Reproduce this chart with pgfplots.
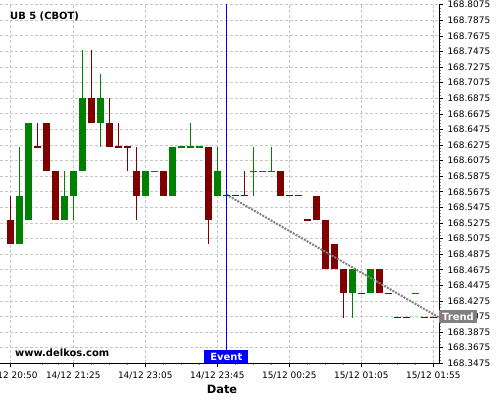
\documentclass[border=0pt]{standalone}
\usepackage{pgfplots}
\pgfplotsset{compat=1.18}
\usepackage{pgfplotstable}
\usepackage{fontspec}
\setmainfont{DejaVu Sans}
\definecolor{cred}{HTML}{800000}
\definecolor{cgreen}{HTML}{008000}
\definecolor{cgrid}{HTML}{C8C8C8}
\definecolor{ctrend}{HTML}{808080}

% wicks: x, low, high
\pgfplotstableread{
x lo hi
0 168.5 168.5625
3 168.625 168.65625
9 168.65625 168.75
11 168.625 168.6875
12 168.625 168.65625
13 168.59375 168.625
14 168.53125 168.625
22 168.5 168.625
26 168.5625 168.59375
37 168.40625 168.46875
}\redwick
\pgfplotstableread{
x lo hi
1 168.5 168.625
6 168.53125 168.59375
7 168.53125 168.59375
8 168.59375 168.75
10 168.625 168.71875
20 168.625 168.65625
23 168.5625 168.625
27 168.5625 168.625
29 168.59375 168.625
38 168.40625 168.46875
}\greenwick
% bodies: x, low, high
\pgfplotstableread{
x lo hi
0 168.5 168.53125
4 168.59375 168.65625
5 168.53125 168.59375
9 168.65625 168.6875
11 168.625 168.65625
14 168.5625 168.59375
17 168.5625 168.59375
22 168.53125 168.625
30 168.5625 168.59375
34 168.53125 168.5625
35 168.46875 168.53125
36 168.46875 168.5
37 168.4375 168.46875
41 168.4375 168.46875
}\redbody
\pgfplotstableread{
x lo hi
1 168.5 168.5625
2 168.53125 168.65625
6 168.53125 168.5625
7 168.5625 168.59375
8 168.59375 168.6875
10 168.65625 168.6875
15 168.5625 168.59375
18 168.5625 168.625
23 168.5625 168.59375
38 168.4375 168.46875
40 168.4375 168.46875
}\greenbody
% dojis: x, price
\pgfplotstableread{
x p
3 168.625
12 168.625
13 168.625
24 168.5625
25 168.5625
26 168.5625
31 168.5625
32 168.5625
33 168.53125
39 168.4375
42 168.4375
43 168.40625
44 168.40625
46 168.40625
47 168.40625
}\reddoji
\pgfplotstableread{
x p
16 168.59375
19 168.625
20 168.625
21 168.625
27 168.59375
28 168.59375
29 168.59375
45 168.4375
}\greendoji

\begin{document}
\begin{tikzpicture}
\begin{axis}[
  at={(0,-4bp)}, anchor=north west,
  scale only axis, width=439bp, height=359.3bp,
  xmin=-1.144, xmax=47.63,
  ymin=168.3475, ymax=168.80838,
  axis x line*=bottom, axis y line*=right,
  axis line style={line width=1bp, black},
  xtick={0,7,15,23,31,39,47},
  xticklabels={14/12 20:50,14/12 21:25,14/12 23:05,14/12 23:45,15/12 00:25,15/12 01:05,15/12 01:55},
  minor xtick={3.5,5.3,9,11,13,17,19,21,25,27,29,33,35,37,41,43,45},
  ytick={168.3475,168.3675,168.3875,168.4075,168.4275,168.4475,168.4675,168.4875,168.5075,168.5275,168.5475,168.5675,168.5875,168.6075,168.6275,168.6475,168.6675,168.6875,168.7075,168.7275,168.7475,168.7675,168.7875,168.8075},
  yticklabels={168.3475,168.3675,168.3875,168.4075,168.4275,168.4475,168.4675,168.4875,168.5075,168.5275,168.5475,168.5675,168.5875,168.6075,168.6275,168.6475,168.6675,168.6875,168.7075,168.7275,168.7475,168.7675,168.7875,168.8075},
  minor y tick num=4,
  tick align=outside,
  major tick length=4bp, minor tick length=2bp,
  every tick/.style={black, line width=0.6bp},
  minor tick style={gray, line width=0.5bp},
  tick label style={font=\fontsize{9}{10}\selectfont},
  xticklabel style={yshift=-1.5bp},
  yticklabel style={xshift=1bp},
  grid=major,
  major grid style={cgrid, line width=0.8bp, dash pattern=on 3bp off 2bp},
  clip=true,
  candle/.style={draw=none, mark=none, forget plot,
    error bars/.cd, y dir=plus, y explicit, error mark=none,
    error bar style={draw=#1}},
]
% wicks
\addplot[candle={cred, line width=1bp}]
  table[x=x, y=lo, y error expr=\thisrow{hi}-\thisrow{lo}] {\redwick};
\addplot[candle={cgreen, line width=1bp}]
  table[x=x, y=lo, y error expr=\thisrow{hi}-\thisrow{lo}] {\greenwick};
% bodies
\addplot[candle={cred, line width=7bp}]
  table[x=x, y=lo, y error expr=\thisrow{hi}-\thisrow{lo}] {\redbody};
\addplot[candle={cgreen, line width=7bp}]
  table[x=x, y=lo, y error expr=\thisrow{hi}-\thisrow{lo}] {\greenbody};
% dojis
\addplot[only marks, mark=-, mark size=3.5bp, mark options={draw=cred, line width=1.2bp}]
  table[x=x, y=p] {\reddoji};
\addplot[only marks, mark=-, mark size=3.5bp, mark options={draw=cgreen, line width=1.2bp}]
  table[x=x, y=p] {\greendoji};
% trend
\addplot[ctrend, line width=2bp, dash pattern=on 2bp off 1.2bp]
  coordinates {(24,168.5640) (47.63,168.40625)};
% event line
\addplot[blue, line width=1bp] coordinates {(24,168.3475) (24,168.80838)};
\node[anchor=south, fill=blue, text=white, font=\fontsize{10}{10}\bfseries\selectfont,
  inner xsep=6bp, inner ysep=0pt, text height=7.5bp, text depth=0pt, minimum height=13.3bp]
  at (axis cs:24,168.3475) {Event};
\end{axis}
\node[anchor=west, fill=ctrend, text=white, font=\fontsize{10}{10}\bfseries\selectfont,
  inner xsep=3bp, inner ysep=0pt, text height=7.5bp, text depth=0pt, minimum height=13.3bp]
  at (439bp,-316.7bp) {Trend};
\node[anchor=base west, font=\fontsize{10}{12}\bfseries\selectfont, inner sep=0pt]
  at (10bp,-19bp) {UB 5 (CBOT)};
\node[anchor=base west, font=\fontsize{10}{12}\bfseries\selectfont, inner sep=0pt]
  at (15bp,-356.7bp) {www.delkos.com};
\node[anchor=base, font=\fontsize{11.5}{13}\bfseries\selectfont, inner sep=0pt]
  at (222bp,-393.3bp) {Date};
\pgfresetboundingbox
\useasboundingbox (0,0) rectangle (500bp,-400bp);
\end{tikzpicture}
\end{document}
